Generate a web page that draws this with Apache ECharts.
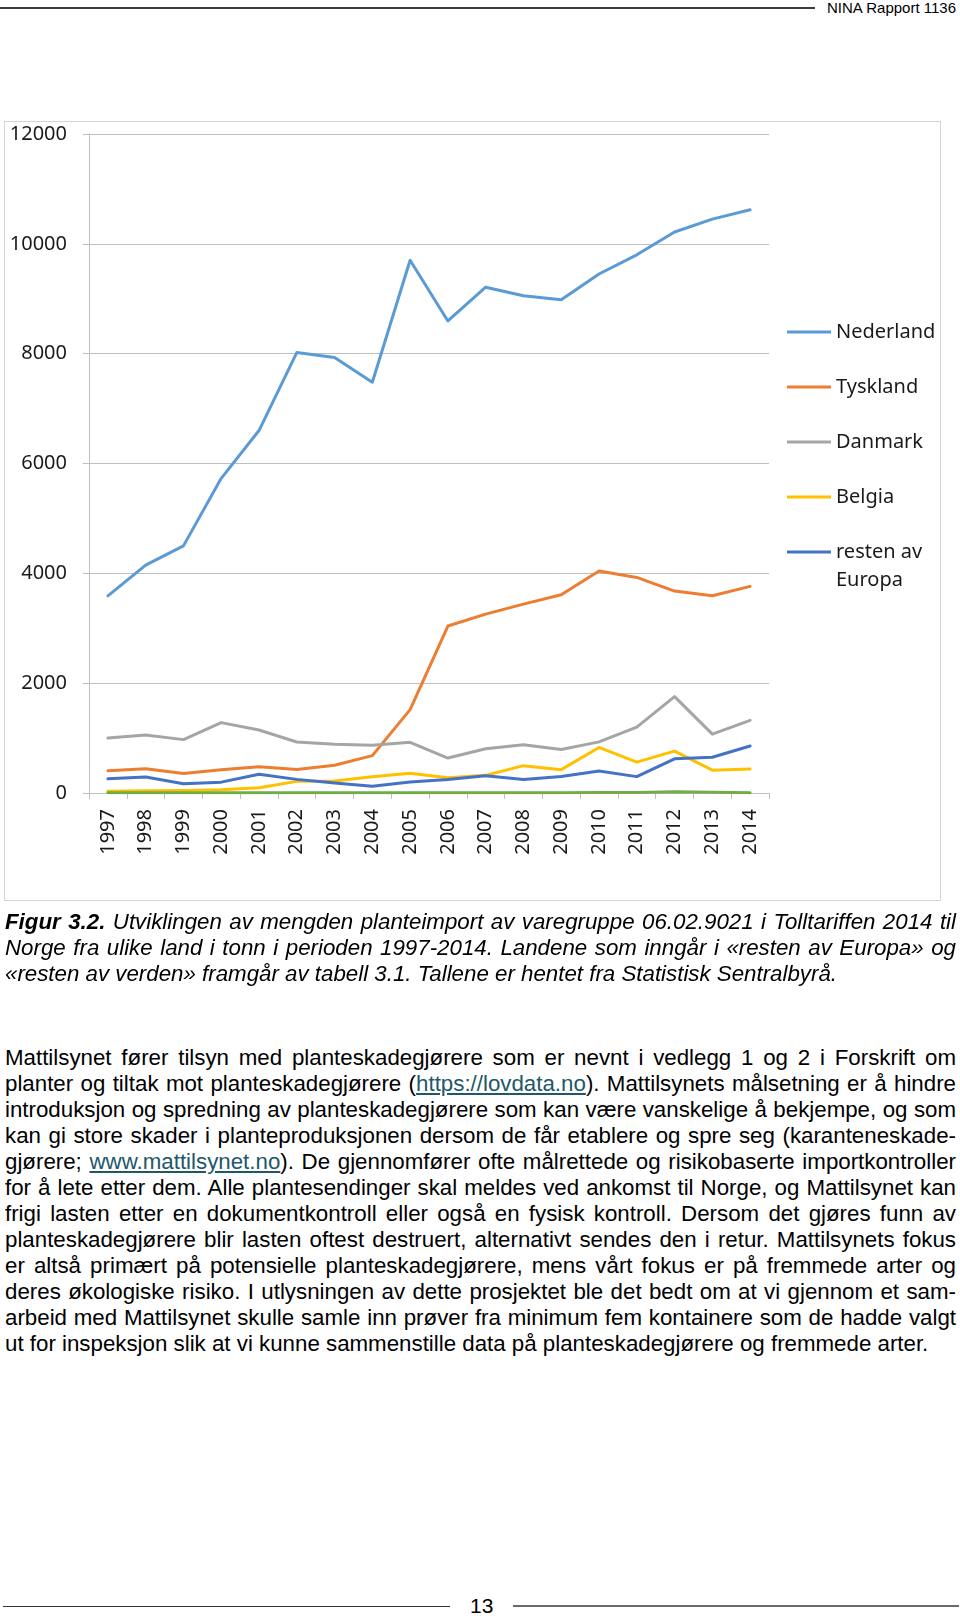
<!DOCTYPE html>
<html>
<head>
<meta charset="utf-8">
<script src="https://cdn.jsdelivr.net/npm/echarts@6/dist/echarts.min.js"></script>
<style>
  html, body { margin: 0; padding: 0; background: #fff; }
  body { width: 960px; height: 1618px; position: relative; overflow: hidden; font-family: "Liberation Sans", Arial, sans-serif; color: #000; }
  #hdrline { position: absolute; left: 0; top: 7px; width: 815px; height: 2px; background: #3a3a3a; }
  #hdrtext { position: absolute; right: 4px; top: -1px; font-size: 15px; line-height: 18px; }
  #box { position: absolute; left: 4px; top: 121px; width: 937px; height: 780px; border: 1px solid #d4d4d4; box-sizing: border-box; }
  #chart { position: absolute; left: 0; top: 0; width: 960px; height: 910px; }
  .blk { position: absolute; left: 5px; width: 951px; font-size: 22.3px; }
  .blk div { text-align: justify; text-align-last: justify; white-space: normal; }
  .blk div.last { text-align-last: left; }
  #caption { top: 909px; line-height: 25.8px; font-style: italic; }
  #para { top: 1045px; line-height: 26px; }
  a { color: #215868; text-decoration: underline; }
  #footL { position: absolute; left: 3px; top: 1606px; width: 447px; height: 1px; background: #333; }
  #footR { position: absolute; left: 513px; top: 1605px; width: 446px; height: 2px; background: #6a6a6a; }
  #footN { position: absolute; left: 470px; top: 1594px; font-size: 21px; line-height: 24px; }
</style>
</head>
<body>
<div id="hdrline"></div>
<div id="hdrtext">NINA Rapport 1136</div>
<div id="box"></div>
<div id="chart"></div>
<div id="caption" class="blk">
  <div><b>Figur 3.2.</b> Utviklingen av mengden planteimport av varegruppe 06.02.9021 i Tolltariffen 2014 til</div>
  <div>Norge fra ulike land i tonn i perioden 1997-2014. Landene som inngår i «resten av Europa» og</div>
  <div class="last">«resten av verden» framgår av tabell 3.1. Tallene er hentet fra Statistisk Sentralbyrå.</div>
</div>
<div id="para" class="blk">
  <div>Mattilsynet fører tilsyn med planteskadegjørere som er nevnt i vedlegg 1 og 2 i Forskrift om</div>
  <div>planter og tiltak mot planteskadegjørere (<a>https://lovdata.no</a>). Mattilsynets målsetning er å hindre</div>
  <div>introduksjon og spredning av planteskadegjørere som kan være vanskelige å bekjempe, og som</div>
  <div>kan gi store skader i planteproduksjonen dersom de får etablere og spre seg (karanteneskade-</div>
  <div>gjørere; <a>www.mattilsynet.no</a>). De gjennomfører ofte målrettede og risikobaserte importkontroller</div>
  <div>for å lete etter dem. Alle plantesendinger skal meldes ved ankomst til Norge, og Mattilsynet kan</div>
  <div>frigi lasten etter en dokumentkontroll eller også en fysisk kontroll. Dersom det gjøres funn av</div>
  <div>planteskadegjørere blir lasten oftest destruert, alternativt sendes den i retur. Mattilsynets fokus</div>
  <div>er altså primært på potensielle planteskadegjørere, mens vårt fokus er på fremmede arter og</div>
  <div>deres økologiske risiko. I utlysningen av dette prosjektet ble det bedt om at vi gjennom et sam-</div>
  <div>arbeid med Mattilsynet skulle samle inn prøver fra minimum fem kontainere som de hadde valgt</div>
  <div class="last">ut for inspeksjon slik at vi kunne sammenstille data på planteskadegjørere og fremmede arter.</div>
</div>
<div id="footL"></div>
<div id="footN">13</div>
<div id="footR"></div>
<script>
const years = ['1997','1998','1999','2000','2001','2002','2003','2004','2005','2006','2007','2008','2009','2010','2011','2012','2013','2014'];
const yTicks = [0, 2000, 4000, 6000, 8000, 10000, 12000];
const seriesNames = ['Nederland', 'Tyskland', 'Danmark', 'Belgia', 'resten av Europa', 'resten av verden'];
const nederland = [3590, 4150, 4500, 5730, 6600, 8020, 7930, 7480, 9700, 8595, 9210, 9055, 8980, 9450, 9800, 10215, 10450, 10620];
const tyskland = [405, 443, 356, 422, 477, 428, 504, 680, 1518, 3040, 3258, 3440, 3610, 4042, 3926, 3677, 3591, 3762];
const danmark = [1000, 1058, 972, 1281, 1147, 928, 886, 868, 923, 637, 807, 877, 792, 931, 1201, 1754, 1072, 1323];
const belgia = [30, 42, 46, 58, 97, 212, 220, 295, 360, 277, 321, 498, 425, 829, 562, 762, 416, 437];
const restenEuropa = [258, 291, 170, 198, 343, 248, 182, 124, 202, 246, 313, 246, 301, 400, 298, 622, 650, 855];
const restenVerden = [5, 5, 5, 5, 5, 5, 5, 5, 5, 5, 5, 5, 5, 8, 10, 24, 12, 5];
const colors = ['#5B9BD5', '#ED7D31', '#A5A5A5', '#FFC000', '#4472C4', '#70AD47'];
const values = [nederland, tyskland, danmark, belgia, restenEuropa, restenVerden];

const chart = echarts.init(document.getElementById('chart'), null, { renderer: 'canvas' });
const font = '"Noto Sans", "DejaVu Sans", sans-serif';
const legendText = { fontFamily: font, fontSize: 20, color: '#1a1a1a', lineHeight: 28 };
chart.setOption({
  animation: false,
  color: colors,
  grid: { left: 89, top: 134, width: 680, height: 659, containLabel: false },
  legend: [
    {
      orient: 'vertical', left: 787, top: 318, padding: 0,
      itemWidth: 44, itemHeight: 3, itemGap: 27, icon: 'rect',
      data: seriesNames.slice(0, 4),
      textStyle: legendText
    },
    {
      orient: 'vertical', left: 787, top: 510, padding: 0,
      itemWidth: 44, itemHeight: 3, icon: 'rect',
      data: [seriesNames[4]],
      formatter: function (n) { return '\n' + n.replace('av ', 'av\n'); },
      textStyle: legendText
    }
  ],
  xAxis: {
    type: 'category', data: years, boundaryGap: true,
    axisLine: { show: true, lineStyle: { color: '#bfbfbf', width: 1 } },
    axisTick: { show: true, interval: 0, length: 6, lineStyle: { color: '#bfbfbf' } },
    axisLabel: { interval: 0, rotate: 90, margin: 16, fontFamily: font, fontSize: 20, color: '#1a1a1a' },
    splitLine: { show: false }
  },
  yAxis: {
    type: 'value', min: yTicks[0], max: yTicks[yTicks.length - 1], interval: yTicks[1] - yTicks[0],
    axisLine: { show: true, lineStyle: { color: '#bfbfbf', width: 1 } },
    axisTick: { show: true, length: 6, lineStyle: { color: '#bfbfbf' } },
    axisLabel: { margin: 22, fontFamily: font, fontSize: 20, color: '#1a1a1a', formatter: function (v) { return String(v); } },
    splitLine: { show: true, lineStyle: { color: '#bfbfbf', width: 1 } }
  },
  series: seriesNames.map(function (name, i) {
    return {
      name: name, type: 'line', data: values[i], symbol: 'none', smooth: false,
      lineStyle: { width: 3, color: colors[i], cap: 'round', join: 'round' },
      itemStyle: { color: colors[i] },
      z: 2 + i
    };
  })
});
</script>
</body>
</html>
